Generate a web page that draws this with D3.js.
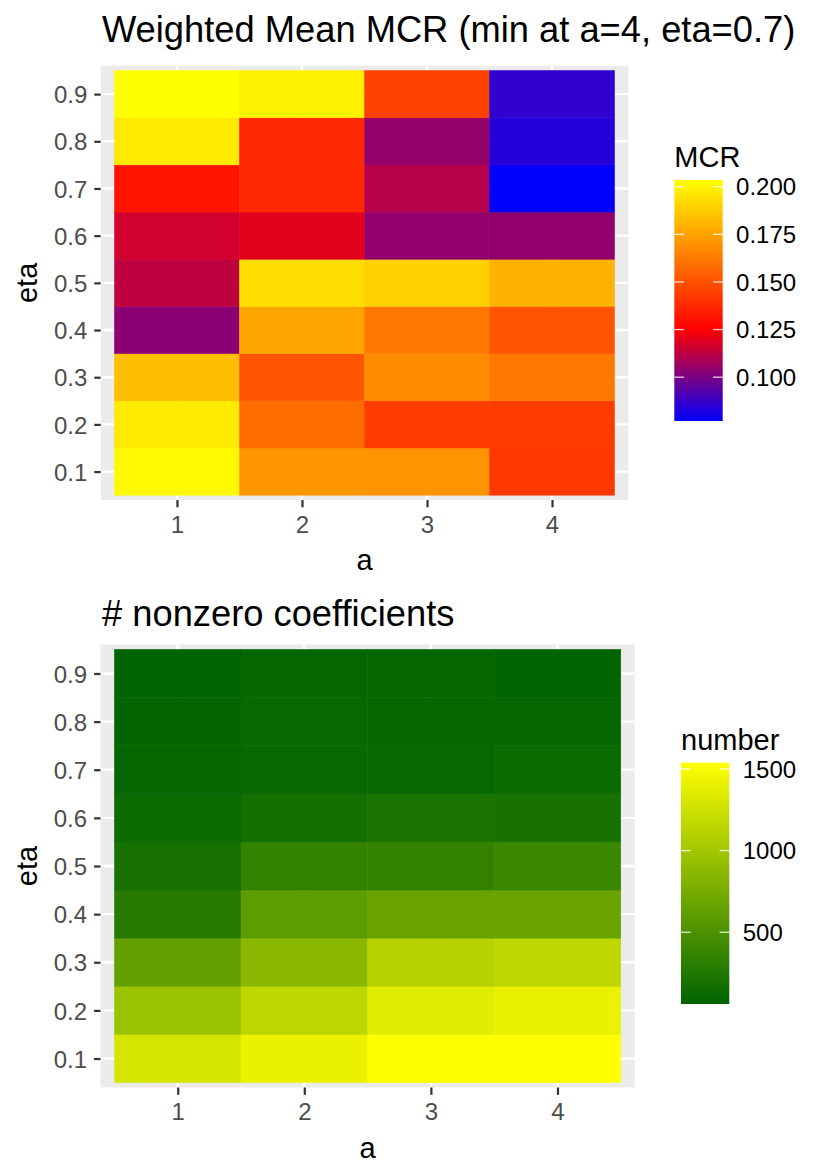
<!DOCTYPE html>
<html>
<head>
<meta charset="utf-8">
<script src="https://cdn.jsdelivr.net/npm/d3@7"></script>
<style>
body { margin: 0; background: #fff; }
text { font-family: "Liberation Sans", Arial, Helvetica, sans-serif; }
</style>
</head>
<body>
<script>
// grid values
var aValues = [1, 2, 3, 4];
var etaValues = [0.1, 0.2, 0.3, 0.4, 0.5, 0.6, 0.7, 0.8, 0.9];

// weighted mean MCR, one row per eta (0.1 first), columns a = 1..4
var mcrByEta = [
	[0.2020, 0.1712, 0.1705, 0.1423],
	[0.1970, 0.1583, 0.1435, 0.1435],
	[0.1835, 0.1512, 0.1681, 0.1620],
	[0.1034, 0.1758, 0.1620, 0.1512],
	[0.1128, 0.1930, 0.1890, 0.1800],
	[0.1165, 0.1195, 0.1049, 0.1049],
	[0.1311, 0.1373, 0.1113, 0.0770],
	[0.1970, 0.1373, 0.1052, 0.0842],
	[0.2035, 0.1995, 0.1447, 0.0860]
];

// number of nonzero coefficients, one row per eta (0.1 first), columns a = 1..4
var nonzeroByEta = [
	[1289, 1417, 1538, 1535],
	[ 965, 1161, 1358, 1417],
	[ 640,  860, 1110, 1161],
	[ 281,  606,  664,  664],
	[ 188,  356,  356,  397],
	[ 130,  165,  211,  194],
	[  84,  107,  100,  125],
	[  70,   96,   90,   80],
	[  63,   80,   78,   61]
];

var mcrLegendTicks = [0.100, 0.125, 0.150, 0.175, 0.200];
var numberLegendTicks = [500, 1000, 1500];

var width = 830;
var height = 1172;

var svg = d3.select("body").append("svg")
	.attr("width", width)
	.attr("height", height);

// colour scales
var mcrMin = d3.min(mcrByEta, function(r) { return d3.min(r); });
var mcrMax = d3.max(mcrByEta, function(r) { return d3.max(r); });
var mcrColor = d3.scaleLinear()
	.domain([mcrMin, 0.125, mcrMax])
	.range(["#0000FF", "#FF0000", "#FFFF00"]);

var nzMin = d3.min(nonzeroByEta, function(r) { return d3.min(r); });
var nzMax = d3.max(nonzeroByEta, function(r) { return d3.max(r); });
var nzColor = d3.scaleLinear()
	.domain([nzMin, nzMax])
	.range(["#006400", "#FFFF00"]);

drawHeatmap({
	id: "mcr",
	title: "Weighted Mean MCR (min at a=4, eta=0.7)",
	titleY: 42,
	values: mcrByEta,
	color: mcrColor,
	panel: {left: 100.7, right: 628.3, top: 65.7, bottom: 500},
	legend: {title: "MCR", x: 674.3, w: 48.4, top: 180, bottom: 421, titleY: 167.3,
		ticks: mcrLegendTicks, format: d3.format(".3f"), stops: [mcrMin, 0.125, mcrMax]}
});

drawHeatmap({
	id: "nz",
	title: "# nonzero coefficients",
	titleY: 626,
	values: nonzeroByEta,
	color: nzColor,
	panel: {left: 100.5, right: 634.7, top: 644.5, bottom: 1087.5},
	legend: {title: "number", x: 681, w: 48.3, top: 762.7, bottom: 1004, titleY: 750,
		ticks: numberLegendTicks, format: d3.format("d"), stops: [nzMin, nzMax]}
});

// Draws one tile chart with its axes and colour bar
function drawHeatmap(opt) {
	var p = opt.panel;

	// small padding around the tiles, as in the reference
	var x = d3.scaleLinear().domain([0.39, 4.61]).range([p.left, p.right]);
	var y = d3.scaleLinear().domain([0.0398, 0.9602]).range([p.bottom, p.top]);

	var g = svg.append("g");

	// panel background
	g.append("rect")
		.attr("x", p.left)
		.attr("y", p.top)
		.attr("width", p.right - p.left)
		.attr("height", p.bottom - p.top)
		.attr("fill", "#EBEBEB");

	// grid lines
	g.selectAll(".vgrid")
		.data(aValues)
		.enter()
		.append("line")
		.attr("x1", function(d) { return x(d); })
		.attr("x2", function(d) { return x(d); })
		.attr("y1", p.top)
		.attr("y2", p.bottom)
		.attr("stroke", "#fff")
		.attr("stroke-width", 2.4);

	g.selectAll(".hgrid")
		.data(etaValues)
		.enter()
		.append("line")
		.attr("x1", p.left)
		.attr("x2", p.right)
		.attr("y1", function(d) { return y(d); })
		.attr("y2", function(d) { return y(d); })
		.attr("stroke", "#fff")
		.attr("stroke-width", 2.4);

	// tiles
	var cells = [];
	etaValues.forEach(function(eta, i) {
		aValues.forEach(function(a, j) {
			cells.push({a: a, eta: eta, v: opt.values[i][j]});
		});
	});

	g.selectAll(".tile")
		.data(cells)
		.enter()
		.append("rect")
		.attr("x", function(d) { return x(d.a - 0.5); })
		.attr("y", function(d) { return y(d.eta + 0.05); })
		.attr("width", function(d) { return x(d.a + 0.5) - x(d.a - 0.5); })
		.attr("height", function(d) { return y(d.eta - 0.05) - y(d.eta + 0.05); })
		.attr("fill", function(d) { return opt.color(d.v); })
		.attr("stroke", function(d) { return opt.color(d.v); })
		.attr("stroke-width", 0.5);

	// axes
	var xAxis = g.append("g")
		.attr("transform", "translate(0," + p.bottom + ")")
		.call(d3.axisBottom(x).tickValues(aValues).tickSize(7.3).tickPadding(7).tickFormat(d3.format("d")));

	var yAxis = g.append("g")
		.attr("transform", "translate(" + p.left + ",0)")
		.call(d3.axisLeft(y).tickValues(etaValues).tickSize(6.4).tickPadding(7).tickFormat(d3.format(".1f")));

	[xAxis, yAxis].forEach(function(ax) {
		ax.select(".domain").remove();
		ax.selectAll(".tick line").attr("stroke", "#333333").attr("stroke-width", 2.2);
		ax.selectAll(".tick text")
			.attr("fill", "#4D4D4D")
			.style("font-size", "24px");
	});
	xAxis.selectAll(".tick text").attr("dy", "0.76em");
	yAxis.selectAll(".tick text").attr("dy", "0.36em");

	// axis titles
	g.append("text")
		.attr("x", (p.left + p.right) / 2)
		.attr("y", p.bottom + 70)
		.attr("text-anchor", "middle")
		.style("font-size", "29px")
		.text("a");

	g.append("text")
		.attr("transform", "translate(37.3," + ((p.top + p.bottom) / 2) + ") rotate(-90)")
		.attr("text-anchor", "middle")
		.style("font-size", "29px")
		.text("eta");

	// plot title
	g.append("text")
		.attr("x", 102)
		.attr("y", opt.titleY)
		.style("font-size", "36.3px")
		.text(opt.title);

	// colour bar legend
	var lg = opt.legend;
	var ly = d3.scaleLinear()
		.domain([lg.stops[0], lg.stops[lg.stops.length - 1]])
		.range([lg.bottom, lg.top]);

	var grad = svg.append("defs")
		.append("linearGradient")
		.attr("id", "grad-" + opt.id)
		.attr("x1", 0).attr("y1", 1)
		.attr("x2", 0).attr("y2", 0);

	grad.selectAll("stop")
		.data(lg.stops)
		.enter()
		.append("stop")
		.attr("offset", function(d) { return (lg.bottom - ly(d)) / (lg.bottom - lg.top); })
		.attr("stop-color", function(d) { return opt.color(d); });

	g.append("text")
		.attr("x", lg.x)
		.attr("y", lg.titleY)
		.style("font-size", "29px")
		.text(lg.title);

	g.append("rect")
		.attr("x", lg.x)
		.attr("y", lg.top)
		.attr("width", lg.w)
		.attr("height", lg.bottom - lg.top)
		.attr("fill", "url(#grad-" + opt.id + ")");

	var lt = g.selectAll(".ltick")
		.data(lg.ticks)
		.enter()
		.append("g");

	lt.append("line")
		.attr("x1", lg.x)
		.attr("x2", lg.x + 9.7)
		.attr("y1", function(d) { return ly(d); })
		.attr("y2", function(d) { return ly(d); })
		.attr("stroke", "#fff")
		.attr("stroke-opacity", 0.8)
		.attr("stroke-width", 1.3);

	lt.append("line")
		.attr("x1", lg.x + lg.w - 9.7)
		.attr("x2", lg.x + lg.w)
		.attr("y1", function(d) { return ly(d); })
		.attr("y2", function(d) { return ly(d); })
		.attr("stroke", "#fff")
		.attr("stroke-opacity", 0.8)
		.attr("stroke-width", 1.3);

	lt.append("text")
		.attr("x", lg.x + lg.w + 13.4)
		.attr("y", function(d) { return ly(d); })
		.attr("dy", "0.36em")
		.style("font-size", "24px")
		.text(function(d) { return lg.format(d); });
}
</script>
</body>
</html>
